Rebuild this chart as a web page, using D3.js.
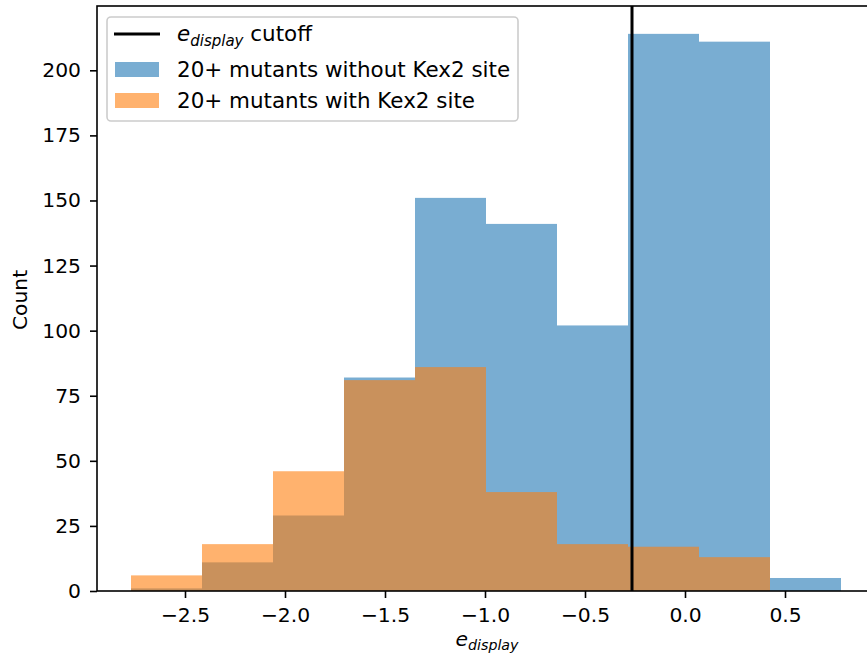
<!DOCTYPE html>
<html>
<head>
<meta charset="utf-8">
<script src="https://cdn.jsdelivr.net/npm/d3@7"></script>
<style>
  body { margin: 0; background: #fff; }
  text { font-family: "DejaVu Sans", sans-serif; fill: #000; }
</style>
</head>
<body>
<div id="graph"></div>
<script>
// histogram bin edges (e_display)
var binEdges = [-2.77, -2.415, -2.06, -1.705, -1.35, -0.995, -0.64, -0.285, 0.07, 0.425, 0.78];
// counts per bin
var countsNoKex2 = [1, 11, 29, 82, 151, 141, 102, 214, 211, 5];
var countsKex2 = [6, 18, 46, 81, 86, 38, 18, 17, 13, 0];
var cutoff = -0.265;
var xTicks = [-2.5, -2.0, -1.5, -1.0, -0.5, 0.0, 0.5];
var yTicks = [0, 25, 50, 75, 100, 125, 150, 175, 200];
var seriesNames = ["20+ mutants without Kex2 site", "20+ mutants with Kex2 site"];

const fullWidth = 867;
const fullHeight = 657;
const plot = { left: 97, right: 877, top: 6, bottom: 591 };
const legendFont = 21.45;

var svg = d3.select("#graph")
  .append("svg")
  .attr("width", fullWidth)
  .attr("height", fullHeight);

var x = d3.scaleLinear()
  .domain([-2.94, 0.96])
  .range([plot.left, plot.right]);

var y = d3.scaleLinear()
  .domain([0, 224.7])
  .range([plot.bottom, plot.top]);

function bins(counts) {
  return counts.map(function (c, i) {
    return { x0: binEdges[i], x1: binEdges[i + 1], count: c };
  }).filter(function (d) { return d.count > 0; });
}

var blue = "#1f77b4";
var orange = "#ff7f0e";

// bars (alpha 0.6 like matplotlib)
[[countsNoKex2, blue], [countsKex2, orange]].forEach(function (s) {
  svg.append("g").selectAll("rect")
    .data(bins(s[0]))
    .enter().append("rect")
    .attr("x", d => x(d.x0))
    .attr("width", d => x(d.x1) - x(d.x0))
    .attr("y", d => y(d.count))
    .attr("height", d => y(0) - y(d.count))
    .attr("fill", s[1])
    .attr("fill-opacity", 0.6);
});

// cutoff line
svg.append("line")
  .attr("x1", x(cutoff)).attr("x2", x(cutoff))
  .attr("y1", plot.top).attr("y2", plot.bottom)
  .attr("stroke", "#000")
  .attr("stroke-width", 3);

// axes
var xAxis = svg.append("g")
  .attr("transform", "translate(0," + plot.bottom + ")")
  .call(d3.axisBottom(x).tickValues(xTicks).tickFormat(d3.format(".1f"))
    .tickSize(7).tickSizeOuter(0).tickPadding(9.5));
var yAxis = svg.append("g")
  .attr("transform", "translate(" + plot.left + ",0)")
  .call(d3.axisLeft(y).tickValues(yTicks).tickFormat(d3.format("d"))
    .tickSize(7).tickSizeOuter(0).tickPadding(9));

[xAxis, yAxis].forEach(function (a) {
  a.select(".domain").remove();
  a.selectAll("line").attr("stroke", "#000").attr("stroke-width", 1.6);
  a.selectAll("text")
    .style("font-family", "DejaVu Sans")
    .style("font-size", "20.3px")
    .attr("fill", "#000");
});

// spines
svg.append("rect")
  .attr("x", plot.left).attr("y", plot.top)
  .attr("width", plot.right - plot.left)
  .attr("height", plot.bottom - plot.top)
  .attr("fill", "none")
  .attr("stroke", "#000")
  .attr("stroke-width", 1.6);

// axis labels
svg.append("text")
  .attr("transform", "translate(27,300) rotate(-90)")
  .attr("text-anchor", "middle")
  .style("font-size", "20.3px")
  .text("Count");

function eDisplay(sel, size) {
  sel.append("tspan").style("font-style", "italic").style("font-size", size + "px").text("e");
  sel.append("tspan").style("font-style", "italic").style("font-size", (size * 0.7) + "px")
    .attr("dy", size * 0.22).text("display");
}

var xl = svg.append("text")
  .attr("x", 487).attr("y", 646)
  .attr("text-anchor", "middle");
eDisplay(xl, 20.3);

// legend
var lg = svg.append("g");
lg.append("rect")
  .attr("x", 107).attr("y", 17)
  .attr("width", 411).attr("height", 104)
  .attr("rx", 4)
  .attr("fill", "#fff").attr("fill-opacity", 0.8)
  .attr("stroke", "#ccc").attr("stroke-width", 1.6);

lg.append("line")
  .attr("x1", 114).attr("x2", 160)
  .attr("y1", 34).attr("y2", 34)
  .attr("stroke", "#000").attr("stroke-width", 3);
var t0 = lg.append("text").attr("x", 177).attr("y", 41).style("font-size", legendFont + "px");
eDisplay(t0, legendFont);
t0.append("tspan").attr("dy", -legendFont * 0.22).text(" cutoff");

[blue, orange].forEach(function (c, i) {
  lg.append("rect")
    .attr("x", 115).attr("y", 62 + i * 31)
    .attr("width", 44).attr("height", 15)
    .attr("fill", c).attr("fill-opacity", 0.6);
  lg.append("text")
    .attr("x", 177).attr("y", 77 + i * 31)
    .style("font-size", legendFont + "px")
    .text(seriesNames[i]);
});
</script>
</body>
</html>
